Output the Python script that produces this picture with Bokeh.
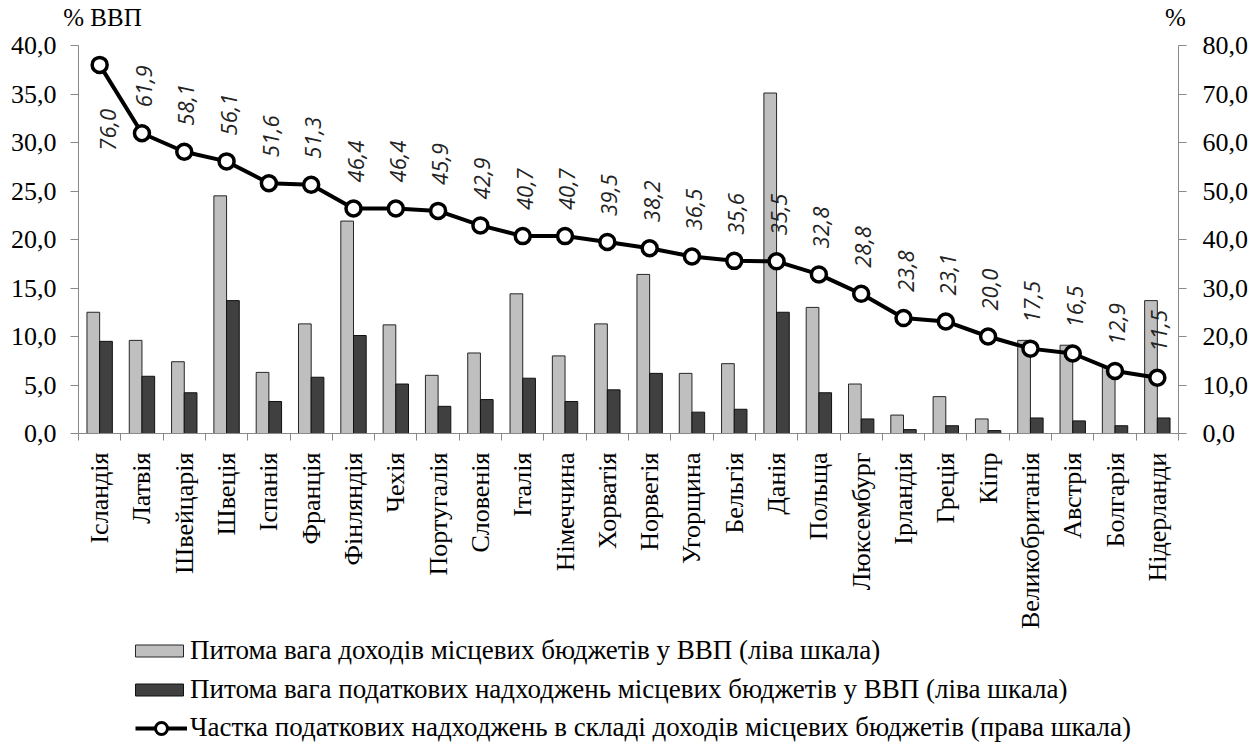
import math
from bokeh.plotting import figure
from bokeh.layouts import column
from bokeh.models import (Range1d, LinearAxis, FixedTicker, CustomJSTickFormatter,
                          ColumnDataSource, Legend, LegendItem)
from bokeh.core.properties import value
from bokeh.embed import file_html
from bokeh.resources import INLINE

countries = ["Ісландія", "Латвія", "Швейцарія", "Швеція", "Іспанія", "Франція",
             "Фінляндія", "Чехія", "Португалія", "Словенія", "Італія", "Німеччина",
             "Хорватія", "Норвегія", "Угорщина", "Бельгія", "Данія", "Польща",
             "Люксембург", "Ірландія", "Греція", "Кіпр", "Великобританія",
             "Австрія", "Болгарія", "Нідерланди"]
local_rev_gdp = [12.5, 9.6, 7.4, 24.5, 6.3, 11.3, 21.9, 11.2, 6.0, 8.3, 14.4, 8.0,
                 11.3, 16.4, 6.2, 7.2, 35.1, 13.0, 5.1, 1.9, 3.8, 1.5, 9.6, 9.1, 6.8, 13.7]
tax_rev_gdp = [9.5, 5.9, 4.2, 13.7, 3.3, 5.8, 10.1, 5.1, 2.8, 3.5, 5.7, 3.3,
               4.5, 6.2, 2.2, 2.5, 12.5, 4.2, 1.5, 0.4, 0.8, 0.3, 1.6, 1.3, 0.8, 1.6]
tax_share = [76.0, 61.9, 58.1, 56.1, 51.6, 51.3, 46.4, 46.4, 45.9, 42.9, 40.7, 40.7,
             39.5, 38.2, 36.5, 35.6, 35.5, 32.8, 28.8, 23.8, 23.1, 20.0, 17.5, 16.5, 12.9, 11.5]
left_ticks = [0, 5, 10, 15, 20, 25, 30, 35, 40]
right_ticks = [0, 10, 20, 30, 40, 50, 60, 70, 80]
left_title = "% ВВП"
right_title = "%"
legend_labels = ["Питома вага доходів місцевих бюджетів у ВВП (ліва шкала)",
                 "Питома вага податкових надходжень місцевих бюджетів у ВВП (ліва шкала)",
                 "Частка податкових надходжень в складі доходів місцевих бюджетів (права шкала)"]

n = len(countries)
idx = list(range(n))
labels_txt = [f"{v:.1f}".replace(".", ",") for v in tax_share]

SERIF = "Liberation Serif"
AXIS_GRAY = "#898989"
LIGHT = "#BFBFBF"
DARK = "#404040"
W = 1255
BL, BR = 78, 77
FOOTER_H = 115
MAIN_H = 747 - FOOTER_H
FRAME_W = W - BL - BR
NAN = float("nan")

# ---------------- main chart ----------------
p = figure(width=W, height=MAIN_H, output_backend="svg", toolbar_location=None,
           x_range=Range1d(-0.5, n - 0.5), y_range=Range1d(0, 40),
           min_border_left=BL, min_border_right=BR, min_border_top=42,
           min_border_bottom=MAIN_H - 433)
p.extra_y_ranges = {"right": Range1d(0, 80)}
p.extra_x_ranges = {"hdr": Range1d(0, FRAME_W)}
p.outline_line_color = None
p.grid.visible = False

src = ColumnDataSource(dict(x=idx, share=tax_share))

bw = 0.3
p.vbar(x=[i - bw / 2 for i in idx], top=local_rev_gdp, width=bw, bottom=0,
       fill_color=LIGHT, line_color="#262626", line_width=1)
p.vbar(x=[i + bw / 2 for i in idx], top=tax_rev_gdp, width=bw, bottom=0,
       fill_color=DARK, line_color="#111111", line_width=1)

p.line("x", "share", source=src, y_range_name="right", line_color="black", line_width=4)
p.scatter("x", "share", source=src, y_range_name="right", size=15,
          fill_color="white", line_color="black", line_width=3.5)

lab_src = ColumnDataSource(dict(x=idx[1:], share=tax_share[1:], lab=labels_txt[1:]))
p.text("x", "share", text="lab", source=lab_src, y_range_name="right",
       angle=math.pi / 2, text_align="left", text_baseline="middle",
       x_offset=2, y_offset=-26,
       text_font=value("Open Sans"), text_font_style="italic",
       text_font_size="22px", text_color="#222222")
first_src = ColumnDataSource(dict(x=idx[:1], share=tax_share[:1], lab=labels_txt[:1]))
p.text("x", "share", text="lab", source=first_src, y_range_name="right",
       angle=math.pi / 2, text_align="right", text_baseline="middle",
       x_offset=8, y_offset=44,
       text_font=value("Open Sans"), text_font_style="italic",
       text_font_size="22px", text_color="#222222")

fmt = CustomJSTickFormatter(code="return tick.toFixed(1).replace('.', ',');")

def style_y(ax):
    ax.axis_line_color = AXIS_GRAY
    ax.major_tick_line_color = AXIS_GRAY
    ax.major_tick_out = 8
    ax.major_tick_in = 0
    ax.major_label_text_font = SERIF
    ax.major_label_text_font_size = "26px"
    ax.major_label_text_color = "black"
    ax.major_label_standoff = 14

ya = p.yaxis[0]
ya.ticker = FixedTicker(ticks=left_ticks, minor_ticks=[])
ya.formatter = fmt
style_y(ya)

ra = LinearAxis(y_range_name="right", ticker=FixedTicker(ticks=right_ticks, minor_ticks=[]),
                formatter=fmt)
style_y(ra)
ra.major_label_standoff = 16
p.add_layout(ra, "right")

xa = p.xaxis[0]
xa.ticker = FixedTicker(ticks=idx, minor_ticks=[i - 0.5 for i in range(n + 1)])
xa.major_label_overrides = {i: c for i, c in enumerate(countries)}
xa.major_label_orientation = math.pi / 2
xa.axis_line_color = AXIS_GRAY
xa.major_tick_line_color = None
xa.minor_tick_line_color = AXIS_GRAY
xa.minor_tick_out = 7
xa.minor_tick_in = 0
xa.major_label_text_font = SERIF
xa.major_label_text_font_size = "26px"
xa.major_label_text_color = "black"
xa.major_label_standoff = 12

# axis titles as labels of a bare axis above the frame
title_pos = [24, FRAME_W - 3]
ta = LinearAxis(x_range_name="hdr", ticker=FixedTicker(ticks=title_pos, minor_ticks=[]))
ta.major_label_overrides = {title_pos[0]: left_title, title_pos[1]: right_title}
ta.axis_line_color = None
ta.major_tick_line_color = None
ta.minor_tick_line_color = None
ta.major_label_text_font = SERIF
ta.major_label_text_font_size = "25px"
ta.major_label_text_color = "black"
ta.major_label_standoff = 9
p.add_layout(ta, "above")

# ---------------- footer (legend) ----------------
ftr = figure(width=W, height=FOOTER_H, output_backend="svg", toolbar_location=None,
             x_range=Range1d(0, 1), y_range=Range1d(0, 1),
             x_axis_type=None, y_axis_type=None,
             min_border_left=BL, min_border_right=BR, min_border_top=0, min_border_bottom=0)
ftr.outline_line_color = None
ftr.grid.visible = False
g1 = ftr.vbar(x=[NAN], top=[NAN], width=0.3, fill_color=LIGHT, line_color="#262626", line_width=1)
g2 = ftr.vbar(x=[NAN], top=[NAN], width=0.3, fill_color=DARK, line_color="#111111", line_width=1)
g3 = ftr.line(x=[NAN, NAN], y=[NAN, NAN], line_color="black", line_width=4)
g4 = ftr.scatter(x=[NAN], y=[NAN], size=12, fill_color="white", line_color="black", line_width=3)

common = dict(orientation="vertical", padding=0, margin=0, spacing=8,
              border_line_color=None, background_fill_alpha=0,
              label_text_font=SERIF, label_text_font_size="27px",
              label_text_color="black", label_height=12)

legend_bars = Legend(items=[LegendItem(label=legend_labels[0], renderers=[g1]),
                            LegendItem(label=legend_labels[1], renderers=[g2])],
                     location=(129 - BL, 42), glyph_width=60, glyph_height=15,
                     label_standoff=1, **common)
legend_line = Legend(items=[LegendItem(label=legend_labels[2], renderers=[g3, g4])],
                     location=(135 - BL, 4), glyph_width=52, glyph_height=30,
                     label_standoff=3, **common)
ftr.add_layout(legend_bars, "center")
ftr.add_layout(legend_line, "center")

layout = column(p, ftr, spacing=0)
open("out.html", "w").write(file_html(layout, INLINE))
